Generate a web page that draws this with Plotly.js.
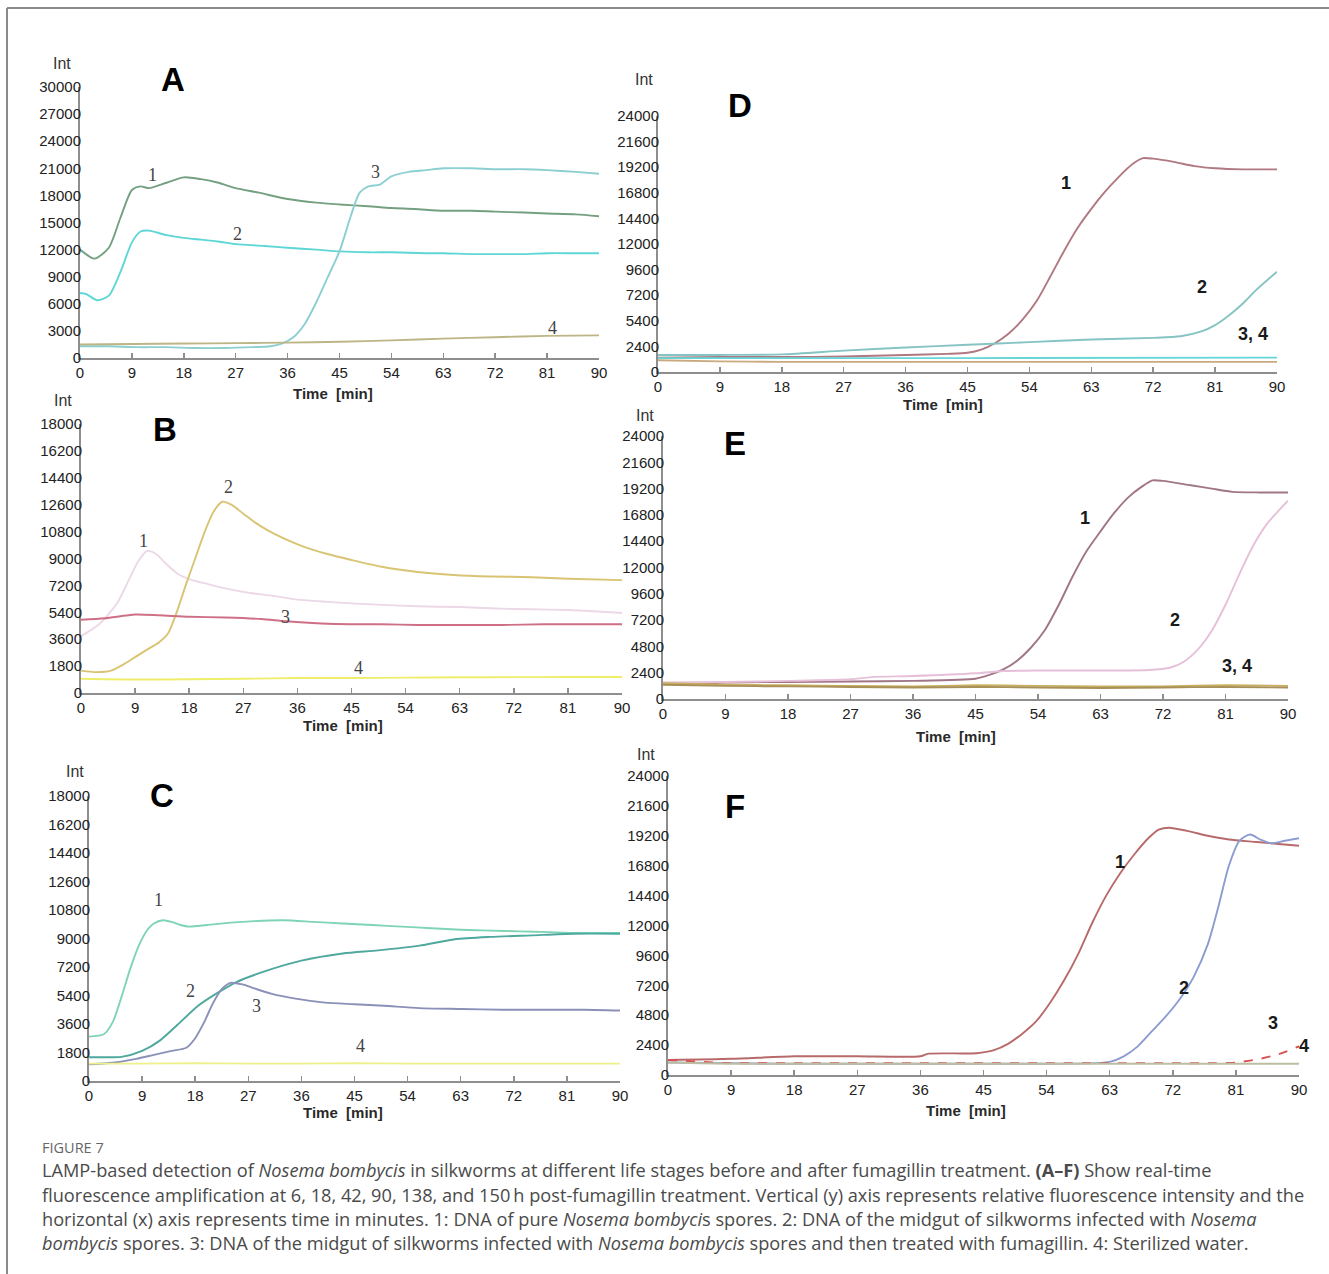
<!DOCTYPE html>
<html>
<head>
<meta charset="utf-8">
<script src="https://cdn.plot.ly/plotly-3.0.1.min.js"></script>
<style>html,body{margin:0;padding:0;background:#fff;}#chart{width:1329px;height:1274px;}</style>
</head>
<body>
<div id="chart"></div>
<script>
// ---------- data ----------
const TIME_TICKS = [0, 9, 18, 27, 36, 45, 54, 63, 72, 81, 90];
const TIME_LABELS = ["0","9","18","27","36","45","54","63","72","81","90"];

const A_YTICKS = [0,3000,6000,9000,12000,15000,18000,21000,24000,27000,30000];
const A_YLABELS = ["0","3000","6000","9000","12000","15000","18000","21000","24000","27000","30000"];
const BC_YTICKS = [0,1800,3600,5400,7200,9000,10800,12600,14400,16200,18000];
const BC_YLABELS = ["0","1800","3600","5400","7200","9000","10800","12600","14400","16200","18000"];
const DEF_YTICKS = [0,2400,4800,7200,9600,12000,14400,16800,19200,21600,24000];
const D_YLABELS = ["0","2400","5400","7200","9600","12000","14400","16800","19200","21600","24000"];
const EF_YLABELS = ["0","2400","4800","7200","9600","12000","14400","16800","19200","21600","24000"];

// Panel A
const A1_t = [0,2.5,5,7,9,10.5,12,15,18,21,24,27,31,36,41,45,50,54,58,63,68,72,77,81,86,90];
const A1_v = [12000,11000,12200,15500,18600,19000,18800,19400,20000,19800,19400,18800,18300,17600,17200,17000,16800,16600,16500,16300,16300,16200,16100,16000,15900,15700];
const A2_t = [0,1,3,5,7,9,10.5,12,15,18,21,24,27,32,36,41,45,50,54,60,63,68,72,77,81,86,90];
const A2_v = [7200,7100,6400,6900,9500,12800,14000,14100,13600,13300,13100,12900,12600,12400,12200,12000,11800,11700,11700,11600,11600,11500,11500,11500,11600,11600,11600];
const A3_t = [0,5,10,15,20,25,30,33,35,37,39,41,43,45,47,48.5,50,52,54,57,60,63,68,72,77,81,86,90];
const A3_v = [1300,1300,1200,1200,1100,1100,1200,1300,1600,2300,3800,6200,9000,11800,15800,18300,19000,19200,20100,20600,20800,21000,21000,20900,20900,20800,20600,20400];
const A4_t = [0,9,18,27,36,45,54,63,72,81,90];
const A4_v = [1500,1550,1600,1650,1700,1800,1950,2150,2300,2450,2500];

// Panel B
const B1_t = [0,3,6,8,9.5,11,12.5,14,16,18.5,21,24,28,32,36,41,45,50,56,63,69,75,81,86,90];
const B1_v = [3800,4600,6000,7600,8800,9500,9300,8700,8000,7550,7300,7000,6700,6500,6250,6100,6000,5900,5800,5750,5650,5600,5550,5450,5350];
const B2_t = [0,2.5,5,7,9,11,13,14.5,16,17.5,19,20.5,22,23.5,25,27,29,31,34,37,41,45,50,56,62,68,75,81,90];
const B2_v = [1500,1400,1500,1900,2400,2900,3400,4000,5500,7300,9000,10700,12100,12800,12600,12000,11400,10900,10300,9800,9300,8900,8450,8100,7900,7800,7750,7650,7550];
const B3_t = [0,4,9,13,18,24,30,34,40,45,50,56,63,70,77,83,90];
const B3_v = [4900,5000,5250,5200,5100,5050,4950,4800,4650,4600,4600,4550,4550,4550,4600,4600,4600];
const B4_t = [0,9,18,27,36,45,54,63,72,81,90];
const B4_v = [950,900,920,950,1000,1000,1030,1050,1060,1070,1070];

// Panel C
const C1_t = [0,2.5,4,5.5,7,8.5,10,11,12.5,14,15.5,17,20,24,28,33,38,43,48,53,58,63,68,73,78,83,90];
const C1_v = [2800,2950,3700,5300,7100,8600,9600,9950,10150,10050,9850,9750,9850,10000,10100,10150,10050,9950,9850,9750,9650,9550,9500,9450,9400,9350,9350];
const C2_t = [0,3,5.5,9,12,15,18.5,21.5,25,30,36,43,49,56,62,68,75,82,90];
const C2_v = [1500,1500,1520,1900,2550,3550,4750,5500,6250,6950,7600,8050,8250,8550,8950,9100,9200,9300,9300];
const C3_t = [0,4,8,11,14,16.5,18,19.5,21,22.5,24,26,28,31,35,40,45,50,56,63,70,77,84,90];
const C3_v = [1050,1150,1400,1650,1900,2100,2700,3700,4900,5800,6200,6100,5850,5500,5200,4950,4850,4750,4600,4550,4500,4500,4500,4450];
const C4_t = [0,9,18,27,36,45,54,63,72,81,90];
const C4_v = [1100,1100,1120,1100,1100,1120,1100,1100,1100,1100,1100];

// Panel D
const D1_t = [0,9,18,27,36,42,45,47,49,51,53,55,57,59,61,63,65,67,69,70.5,72,75,78,81,85,90];
const D1_v = [1350,1400,1400,1450,1600,1700,1800,2100,2700,3600,4900,6600,8900,11300,13500,15300,16900,18300,19500,20050,20000,19700,19300,19100,19000,19000];
const D2_t = [0,9,18,27,36,45,54,63,72,76,79,81,83,85,87,90];
const D2_v = [1600,1600,1650,2000,2300,2550,2800,3050,3200,3350,3800,4400,5300,6400,7700,9400];
const D3_t = [0,45,90];
const D3_v = [1300,1300,1350];
const D4_t = [0,9,18,27,36,45,54,63,72,81,90];
const D4_v = [1100,1000,950,950,950,950,950,950,950,950,950];

// Panel E
const E1_t = [0,4,9,18,27,36,45,47,49,51,53,55,57,59,61,63,65,67,69,70.5,72,76,79,82,86,90];
const E1_v = [1400,1300,1500,1550,1600,1650,1850,2200,2700,3500,4700,6300,8600,11200,13500,15300,17000,18400,19400,19950,19900,19500,19200,18900,18850,18850];
const E2_t = [0,9,18,27,30,36,45,49,54,63,70,73,75,77,79,81,83,85,87,90];
const E2_v = [1500,1550,1650,1800,2000,2100,2350,2550,2600,2600,2650,2850,3400,4500,6200,8600,11400,14000,16000,18100];
const E3_t = [0,9,18,27,36,45,54,63,72,81,90];
const E3_v = [1450,1300,1250,1200,1150,1250,1200,1150,1150,1250,1200];
const E4_t = [0,9,18,27,36,45,54,63,72,81,90];
const E4_v = [1300,1200,1150,1100,1050,1100,1050,1000,1050,1100,1050];

// Panel F
const F1_t = [0,9,18,27,36,37,44,46.5,48.5,50.5,52.5,54.5,56.5,58.5,60.5,62.5,64.5,66.5,68.5,70,71.5,74,77,80,84,90];
const F1_v = [1200,1300,1500,1500,1500,1700,1750,2000,2500,3300,4300,5800,7600,9700,12200,14400,16200,17700,19000,19700,19850,19600,19200,18900,18700,18400];
const F2_t = [0,9,18,27,36,45,54,61,63,65,67,69,71,73,75,77,78.5,80,81.5,83,84.5,86,88,90];
const F2_v = [1000,950,900,900,900,900,900,950,1050,1500,2300,3500,4700,6100,7900,10500,13500,16800,18800,19300,18900,18600,18800,19000];
const F3_t = [0,9,18,27,36,45,54,63,72,78,81,84,87,90];
const F3_v = [1200,950,950,950,950,950,950,950,950,950,1000,1250,1650,2300];
const F4_t = [0,9,18,27,36,45,54,63,72,81,90];
const F4_v = [1000,900,900,900,900,900,900,900,900,900,900];

// ---------- layout helpers ----------
const W = 1329, H = 1274;
const px = x => x / W;
const py = y => 1 - y / H;

const SANS = "'Liberation Sans', Arial, sans-serif";
const TICK_FONT = {family: SANS, size: 15, color: '#222'};
const AXIS_COLOR = '#8e8e8e';

const panels = [
  {n:'', box:[80,599,358,87], ymax:30000, yt:A_YTICKS, yl:A_YLABELS,
   series:[[A1_t,A1_v,'#74a080'],[A2_t,A2_v,'#5ed6d6'],[A3_t,A3_v,'#8ccfd0'],[A4_t,A4_v,'#bdb585']]},
  {n:'2', box:[81,622,693,424], ymax:18000, yt:BC_YTICKS, yl:BC_YLABELS,
   series:[[B1_t,B1_v,'#ecd8e6'],[B2_t,B2_v,'#d8c473'],[B3_t,B3_v,'#cf6f86'],[B4_t,B4_v,'#eeee6a']]},
  {n:'3', box:[89,620,1081,796], ymax:18000, yt:BC_YTICKS, yl:BC_YLABELS,
   series:[[C1_t,C1_v,'#7ed4b4'],[C2_t,C2_v,'#4ea89e'],[C3_t,C3_v,'#8a90b8'],[C4_t,C4_v,'#eef08a']]},
  {n:'4', box:[658,1277,372,116], ymax:24000, yt:DEF_YTICKS, yl:D_YLABELS,
   series:[[D1_t,D1_v,'#b07880'],[D2_t,D2_v,'#86c4c4'],[D3_t,D3_v,'#66d6d6'],[D4_t,D4_v,'#c9aa80']]},
  {n:'5', box:[663,1288,699,436], ymax:24000, yt:DEF_YTICKS, yl:EF_YLABELS,
   series:[[E1_t,E1_v,'#a07585'],[E2_t,E2_v,'#e6c0d8'],[E3_t,E3_v,'#c8b060'],[E4_t,E4_v,'#a89058']]},
  {n:'6', box:[668,1299,1075,776], ymax:24000, yt:DEF_YTICKS, yl:EF_YLABELS,
   series:[[F1_t,F1_v,'#b86a6a'],[F2_t,F2_v,'#8c9cd0'],[F3_t,F3_v,'#d85050','dash'],[F4_t,F4_v,'#bdbda2']]}
];

const traces = [];
const layout = {
  width: W, height: H,
  margin: {l:0, r:0, t:0, b:0},
  paper_bgcolor: '#ffffff', plot_bgcolor: '#ffffff',
  showlegend: false,
  annotations: [],
  shapes: [
    {type:'line', xref:'paper', yref:'paper', x0:px(7), x1:1, y0:py(8), y1:py(8), line:{color:'#8a8a8a', width:2}},
    {type:'line', xref:'paper', yref:'paper', x0:px(7), x1:px(7), y0:py(8), y1:0, line:{color:'#8a8a8a', width:2}}
  ]
};

panels.forEach(p => {
  const [x0, x1, y0, y1] = p.box;
  const xa = 'xaxis' + p.n, ya = 'yaxis' + p.n;
  const xr = 'x' + p.n, yr = 'y' + p.n;
  layout[xa] = {
    domain:[px(x0), px(x1)], range:[0,90], anchor: yr,
    tickmode:'array', tickvals: TIME_TICKS, ticktext: TIME_LABELS,
    showline:true, linecolor:AXIS_COLOR, linewidth:2, mirror:false,
    ticks:'inside', ticklen:5, tickwidth:1.5, tickcolor:AXIS_COLOR,
    showgrid:false, zeroline:false, tickfont: TICK_FONT, fixedrange:true
  };
  layout[ya] = {
    domain:[py(y0), py(y1)], range:[0,p.ymax], anchor: xr,
    tickmode:'array', tickvals: p.yt, ticktext: p.yl,
    showline:true, linecolor:AXIS_COLOR, linewidth:2,
    ticks:'', showgrid:false, zeroline:false, tickfont: TICK_FONT,
    ticklabelstandoff: -6, fixedrange:true
  };
  p.series.forEach(s => {
    traces.push({
      x: s[0], y: s[1], xaxis: xr, yaxis: yr, type:'scatter', mode:'lines',
      line:{color:s[2], width:1.9, shape:'spline', smoothing:0.7, dash: s[3] || 'solid'},
      hoverinfo:'skip', showlegend:false
    });
  });
});

// text placed in page pixels
function txt(text, x, y, font, opts) {
  layout.annotations.push(Object.assign({
    text: text, xref:'paper', yref:'paper', x: px(x), y: py(y),
    xanchor:'center', yanchor:'middle', showarrow:false, font: font
  }, opts || {}));
}
const intFont = {family: SANS, size: 16, color:'#333'};
const timeFont = {family: SANS, size: 15, color:'#2a2a2a', weight: 700};
const letterFont = {family: SANS, size: 33, color:'#000', weight: 700};
const numThin = {family: "'Liberation Serif', 'DejaVu Serif', serif", size: 18, color:'#444'};
const numBold = {family: SANS, size: 18, color:'#1a1a1a', weight: 700};

// panel headers
[['A',173,80,62,63,333,393],['D',740,106,644,79,943,405],['B',165,429,63,400,343,725],
 ['E',735,443,645,416,956,736],['C',162,795,75,771,343,1112],['F',735,806,646,754,966,1110]].forEach(h => {
  txt(h[0], h[1], h[2], letterFont);
  txt('Int', h[3], h[4], intFont);
  txt('Time  [min]', h[5], h[6], timeFont);
});

// curve number labels
[['1',152,175],['2',237,234],['3',375,172],['4',552,328],
 ['1',143,541],['2',228,487],['3',285,617],['4',358,668],
 ['1',158,900],['2',190,991],['3',256,1006],['4',360,1046]].forEach(l => txt(l[0], l[1], l[2], numThin));
[['1',1066,183],['2',1202,287],['3, 4',1253,334],
 ['1',1085,518],['2',1175,620],['3, 4',1237,666],
 ['1',1120,862],['2',1184,988],['3',1273,1023],['4',1304,1046]].forEach(l => txt(l[0], l[1], l[2], numBold));

// caption
const CAP = "'Open Sans', 'Noto Sans', sans-serif";
const capFont = {family: CAP, size: 18.2, color:'#4a4a4a'};
txt('FIGURE 7', 40, 1147, {family: CAP, size: 14.5, color:'#666'}, {xanchor:'left'});
const capLines = [
  'LAMP-based detection of <i>Nosema bombycis</i> in silkworms at different life stages before and after fumagillin treatment. <b>(A–F)</b> Show real-time',
  'fluorescence amplification at 6, 18, 42, 90, 138, and 150\u2009h post-fumagillin treatment. Vertical (y) axis represents relative fluorescence intensity and the',
  'horizontal (x) axis represents time in minutes. 1: DNA of pure <i>Nosema bombyci</i>s spores. 2: DNA of the midgut of silkworms infected with <i>Nosema</i>',
  '<i>bombycis</i> spores. 3: DNA of the midgut of silkworms infected with <i>Nosema bombycis</i> spores and then treated with fumagillin. 4: Sterilized water.'
];
[1170, 1195, 1219, 1243].forEach((y, i) => txt(capLines[i], 40, y, capFont, {xanchor:'left'}));

Plotly.newPlot('chart', traces, layout, {staticPlot:true, displayModeBar:false});
</script>
</body>
</html>
